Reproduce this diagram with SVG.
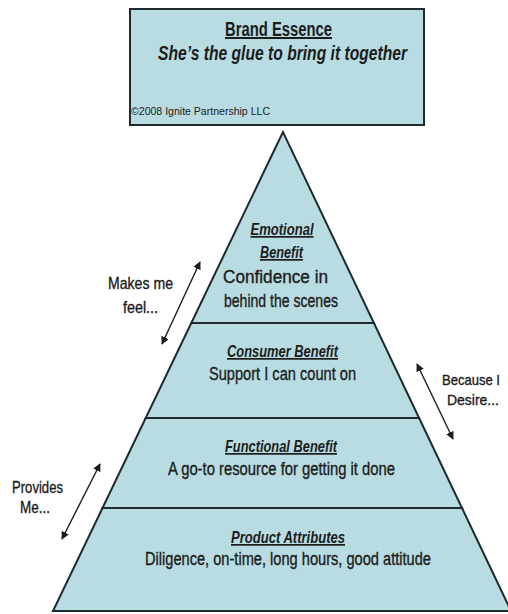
<svg xmlns="http://www.w3.org/2000/svg" width="508" height="614" viewBox="0 0 508 614">
<style>
.fill{fill:#b8dce2;stroke:#1e2b30;stroke-width:2;stroke-linejoin:miter}
text{font-family:"Liberation Sans",Arial,sans-serif;fill:#1c1c1c;text-anchor:middle}
.h{font-weight:bold;font-style:italic;text-decoration:underline;font-size:17px}
.b{font-size:18px;stroke:#1c1c1c;stroke-width:0.35}
.s{font-size:17px;stroke:#1c1c1c;stroke-width:0.35}
.r{font-size:15px;stroke:#1c1c1c;stroke-width:0.35}
.arr{stroke:#1c1c1c;stroke-width:1.4;fill:none;marker-start:url(#ah);marker-end:url(#ah)}
</style>
<defs>
<marker id="ah" viewBox="0 0 10 10" refX="9" refY="5" markerWidth="8" markerHeight="8" orient="auto-start-reverse" markerUnits="userSpaceOnUse">
<path d="M0,0 L10,5 L0,10 z" fill="#1c1c1c"/>
</marker>
</defs>
<rect width="508" height="614" fill="#ffffff"/>
<g id="brand-essence">
<rect class="fill" x="130" y="9" width="294" height="116"/>
<text x="278.5" y="36" font-size="20" font-weight="bold" text-decoration="underline" textLength="107" lengthAdjust="spacingAndGlyphs">Brand Essence</text>
<text x="282.5" y="60" font-size="21" font-weight="bold" font-style="italic" textLength="249" lengthAdjust="spacingAndGlyphs">She’s the glue to bring it together</text>
<text x="131" y="115" font-size="11" style="text-anchor:start" textLength="139" lengthAdjust="spacingAndGlyphs">©2008 Ignite Partnership LLC</text>
</g>
<g id="emotional-benefit">
<polygon class="fill" points="283,132 191.3,323 373.9,323"/>
<text class="h" x="282" y="235" textLength="63" lengthAdjust="spacingAndGlyphs">Emotional</text>
<text class="h" x="281.5" y="258" textLength="43" lengthAdjust="spacingAndGlyphs">Benefit</text>
<text class="b" x="275.5" y="283" textLength="105" lengthAdjust="spacingAndGlyphs">Confidence in</text>
<text class="b" x="281" y="307" textLength="114" lengthAdjust="spacingAndGlyphs">behind the scenes</text>
</g>
<g id="consumer-benefit">
<polygon class="fill" points="191.3,323 145.7,418 419.1,418 373.9,323"/>
<text class="h" x="282.5" y="357" textLength="111" lengthAdjust="spacingAndGlyphs">Consumer Benefit</text>
<text class="b" x="282.5" y="380" textLength="147" lengthAdjust="spacingAndGlyphs">Support I can count on</text>
</g>
<g id="functional-benefit">
<polygon class="fill" points="145.7,418 102.5,508 462,508 419.1,418"/>
<text class="h" x="281" y="452" textLength="112" lengthAdjust="spacingAndGlyphs">Functional Benefit</text>
<text class="b" x="281.5" y="475" textLength="227" lengthAdjust="spacingAndGlyphs">A go-to resource for getting it done</text>
</g>
<g id="product-attributes">
<polygon class="fill" points="102.5,508 53,611 511,611 462,508"/>
<text class="h" x="288" y="543" textLength="114" lengthAdjust="spacingAndGlyphs">Product Attributes</text>
<text class="b" x="288" y="565" textLength="286" lengthAdjust="spacingAndGlyphs">Diligence, on-time, long hours, good attitude</text>
</g>
<g id="connectors">
<line class="arr" x1="200" y1="262" x2="162" y2="344"/>
<line class="arr" x1="417" y1="364" x2="453" y2="439"/>
<line class="arr" x1="100" y1="464" x2="62" y2="539"/>
</g>
<g id="labels">
<text class="s" x="140.5" y="289" textLength="65" lengthAdjust="spacingAndGlyphs">Makes me</text>
<text class="s" x="140.5" y="313" textLength="35" lengthAdjust="spacingAndGlyphs">feel...</text>
<text class="r" x="471" y="385" textLength="58" lengthAdjust="spacingAndGlyphs">Because I</text>
<text class="r" x="473" y="405" textLength="52" lengthAdjust="spacingAndGlyphs">Desire...</text>
<text class="s" x="37.5" y="493" textLength="51" lengthAdjust="spacingAndGlyphs">Provides</text>
<text class="s" x="35" y="513" textLength="30" lengthAdjust="spacingAndGlyphs">Me...</text>
</g>
</svg>
